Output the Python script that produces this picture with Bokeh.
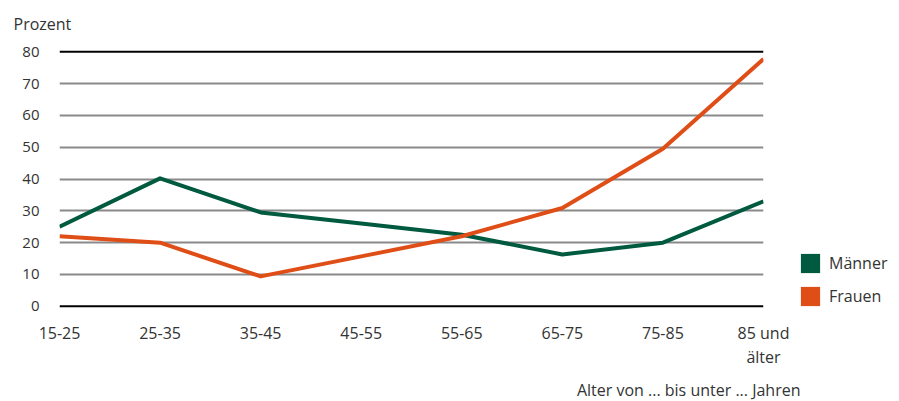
from bokeh.plotting import figure
from bokeh.models import (ColumnDataSource, FixedTicker, Span, Legend, LegendItem, Range1d, Title)
from bokeh.embed import file_html
from bokeh.resources import INLINE

categories = ["15-25", "25-35", "35-45", "45-55", "55-65", "65-75", "75-85", "85 und\nälter"]
maenner = [25.0, 40.2, 29.5, 26.0, 22.5, 16.3, 20.0, 33.0]
frauen = [22.0, 20.0, 9.4, 15.7, 22.0, 30.9, 49.5, 77.7]
y_ticks = [0, 10, 20, 30, 40, 50, 60, 70, 80]

GREEN = "#005a40"
ORANGE = "#e04e17"
TEXT = "#333333"
FONT = "Open Sans"
FS = "16px"

xs = list(range(len(categories)))

p = figure(frame_width=704, frame_height=261, output_backend="svg", toolbar_location=None,
           x_range=Range1d(0, len(categories) - 1), y_range=Range1d(-1, 81),
           min_border_left=59, min_border_right=132, min_border_top=48, min_border_bottom=91)
p.outline_line_color = None
p.background_fill_color = "white"
p.border_fill_color = "white"

p.title = Title(text="Prozent", align="left", offset=-46, standoff=24, vertical_align="top",
                text_font=FONT, text_font_size=FS, text_font_style="normal", text_color=TEXT)
p.add_layout(Title(text="Alter von ... bis unter ... Jahren", align="right", offset=-37, standoff=12,
                   text_font=FONT, text_font_size=FS, text_font_style="normal", text_color=TEXT),
             "below")

p.xgrid.visible = False
p.ygrid.ticker = FixedTicker(ticks=y_ticks[1:-1])
p.ygrid.grid_line_color = "#8a8a8a"
p.ygrid.grid_line_width = 2

for v in (y_ticks[0], y_ticks[-1]):
    p.add_layout(Span(location=v, dimension="width", line_color="black", line_width=2))

p.yaxis.ticker = FixedTicker(ticks=y_ticks)
p.xaxis.ticker = FixedTicker(ticks=xs)
p.xaxis.major_label_overrides = {i: c for i, c in enumerate(categories)}
for ax in (p.xaxis, p.yaxis):
    ax.axis_line_color = None
    ax.major_tick_line_color = None
    ax.minor_tick_line_color = None
    ax.major_label_text_font = FONT
    ax.major_label_text_font_size = FS
    ax.major_label_text_color = TEXT
p.yaxis.major_label_text_font_size = "15px"
p.yaxis.major_label_standoff = 14
p.xaxis.major_label_standoff = 6
p.xaxis.major_label_text_line_height = 1.1

src = ColumnDataSource(dict(x=xs, m=maenner, f=frauen))
p.line("x", "m", source=src, line_color=GREEN, line_width=4, line_join="round")
p.line("x", "f", source=src, line_color=ORANGE, line_width=4, line_join="round")

# zero-area quads: invisible on the plot, used only for square legend swatches
qm = p.quad(left="x", right="x", top="m", bottom="m", source=src, fill_color=GREEN, line_color=None)
qf = p.quad(left="x", right="x", top="f", bottom="f", source=src, fill_color=ORANGE, line_color=None)

legend = Legend(items=[LegendItem(label="Männer", renderers=[qm]), LegendItem(label="Frauen", renderers=[qf])],
                location=(35, 1), glyph_width=24, glyph_height=24, label_height=24, spacing=9,
                padding=0, margin=0, border_line_color=None, background_fill_alpha=0,
                label_text_font=FONT, label_text_font_size=FS, label_text_color=TEXT,
                label_standoff=7)
p.add_layout(legend, "right")

open("out.html", "w").write(file_html(p, INLINE))
